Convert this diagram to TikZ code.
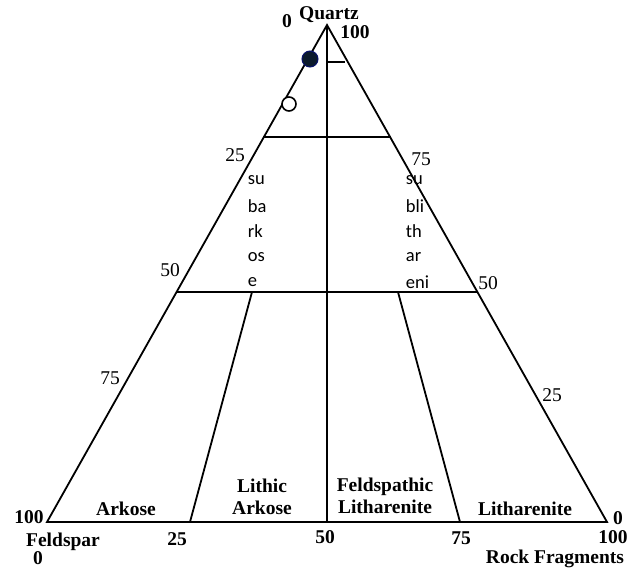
\documentclass[tikz,border=0pt]{standalone}
\usepackage{fontspec}
\setmainfont{Liberation Serif}
\newfontfamily\carl{Carlito}
\definecolor{dotfill}{HTML}{0B1A2C}
\begin{document}
\begin{tikzpicture}[x=1pt,y=-1pt,line width=1.8pt,
  lbl/.style={font=\fontsize{19.5}{21}\selectfont\bfseries,inner sep=0pt,align=center},
  num/.style={font=\fontsize{19.5}{21}\selectfont,inner sep=0pt},
  frag/.style={font=\carl\fontsize{18.5}{20}\selectfont,anchor=west,inner sep=0pt}]
\useasboundingbox (0,0) rectangle (643,570);
% corners
\coordinate (Q) at (327,25);
\coordinate (F) at (47,522);
\coordinate (R) at (607,522);
\coordinate (M) at (327,522);
% horizontal lines
\coordinate (h1l) at (263,137);
\coordinate (h1r) at (391,137);
\coordinate (h2l) at (177,292);
\coordinate (h2r) at (477,292);
\coordinate (s0) at (327,62);
\coordinate (s1) at (345,62);
% inner lines
\coordinate (a1) at (252,292);
\coordinate (a2) at (190,522);
\coordinate (b1) at (398,292);
\coordinate (b2) at (460,522);
\draw (Q) -- (F) -- (R) -- cycle;
\draw (Q) -- (M);
\draw (h1l) -- (h1r);
\draw (h2l) -- (h2r);
\draw (s0) -- (s1);
\draw (a1) -- (a2);
\draw (b1) -- (b2);
% data points
\node[circle,fill=dotfill,draw=dotfill!70!blue,line width=1pt,minimum size=16pt,inner sep=0pt] (p1) at (310,59) {};
\node[circle,fill=white,draw=black,line width=1.6pt,minimum size=14pt,inner sep=0pt] (p2) at (289,104) {};
% top labels
\node[lbl] (q0) at (287,21) {0};
\node[lbl] (qz) at (329,15) {Quartz};
\node[lbl] (q100) at (355,32) {100};
% side numbers
\node[num] (l25) at (235,155) {25};
\node[num] (r75) at (421,159) {75};
\node[num] (l50) at (170,270) {50};
\node[num] (r50) at (488,283) {50};
\node[num] (l75) at (110,378) {75};
\node[num] (r25) at (552,395) {25};
% fragments
\node[frag] (sa1) at (247,180) {su};
\node[frag] (sa2) at (247,206) {ba};
\node[frag] (sa3) at (247,231) {rk};
\node[frag] (sa4) at (247,257) {os};
\node[frag] (sa5) at (247,282) {e};
\node[frag] (sl1) at (405,180) {su};
\node[frag] (sl2) at (405,206) {bli};
\node[frag] (sl3) at (405,231) {th};
\node[frag] (sl4) at (405,257) {ar};
\node[frag] (sl5) at (405,282) {eni};
% bottom labels
\node[lbl] (f100) at (29,517) {100};
\node[lbl] (fs) at (63,542) {Feldspar};
\node[lbl] (f0) at (38,558) {0};
\node[lbl] (ark) at (126,509) {Arkose};
\node[lbl] (b25) at (177,539) {25};
\node[lbl] (lark) at (262,497) {Lithic\\[1pt]Arkose};
\node[lbl] (b50) at (325,537) {50};
\node[lbl] (flit) at (385,496) {Feldspathic\\[1pt]Litharenite};
\node[lbl] (b75) at (461,538) {75};
\node[lbl] (lit) at (525,509) {Litharenite};
\node[lbl] (r0) at (618,518) {0};
\node[lbl] (r100) at (613,537) {100};
\node[lbl] (rf) at (555,559) {Rock Fragments};
\end{tikzpicture}
\end{document}
